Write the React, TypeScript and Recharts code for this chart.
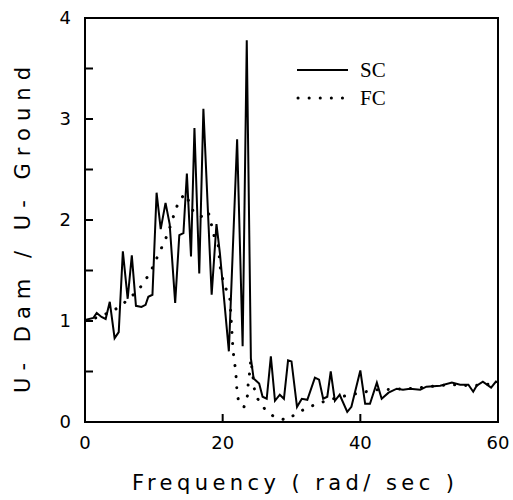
import React from 'react';
import {
  LineChart,
  Line,
  XAxis,
  YAxis,
  ReferenceArea,
} from 'recharts';

// SC curve (frequency, ratio)
const scFreq = [
  0, 1.2, 1.7, 2.4, 3.0, 3.6, 4.3, 4.9, 5.5, 6.2, 6.8, 7.4, 8.2, 8.8, 9.2, 9.8,
  10.4, 11.0, 11.7, 12.3, 13.1, 13.7, 14.3, 14.8, 15.4, 15.9, 16.6, 17.2, 18.4,
  19.1, 19.6, 20.9, 22.1, 22.9, 23.5, 24.1, 24.5, 25.3, 25.8, 26.4, 27.0, 27.6,
  28.3, 28.9, 29.5, 30.0, 30.8, 31.5, 32.3, 33.4, 34.0, 34.6, 35.2, 35.7, 36.3,
  37.0, 38.1, 38.7, 40.0, 40.7, 41.4, 42.4, 43.1, 44.1, 45.3, 46.2, 47.2, 48.7,
  49.6, 51.6, 53.3, 54.5, 55.7, 56.4, 56.9, 57.8, 59.0, 59.7, 60,
];
const scRatio = [
  1.01, 1.03, 1.08, 1.04, 1.02, 1.19, 0.83, 0.89, 1.69, 1.22, 1.65, 1.15, 1.14,
  1.16, 1.24, 1.26, 2.27, 1.91, 2.17, 1.96, 1.18, 1.85, 1.87, 2.46, 1.64, 2.91,
  1.47, 3.1, 1.26, 1.96, 1.67, 0.7, 2.8, 0.75, 3.78, 0.63, 0.43, 0.38, 0.25,
  0.23, 0.65, 0.21, 0.27, 0.23, 0.61, 0.6, 0.15, 0.23, 0.22, 0.44, 0.42, 0.23,
  0.25, 0.5, 0.21, 0.27, 0.1, 0.15, 0.51, 0.18, 0.18, 0.39, 0.23, 0.29, 0.33,
  0.32, 0.33, 0.32, 0.35, 0.36, 0.39, 0.37, 0.37, 0.3, 0.36, 0.4, 0.34, 0.4,
  0.39,
];

// FC curve
const fcFreq = [
  0, 1.5, 3.0, 4.8, 6.4, 7.9, 9.0, 9.9, 10.6, 11.3, 12.0, 12.5, 13.0, 13.6,
  14.5, 15.3, 15.8, 16.5, 17.1, 17.9, 18.3, 18.6, 19.4, 19.6, 20.2, 21.0, 21.3,
  21.4, 21.5, 21.7, 21.9, 22.0, 22.1, 22.4, 23.1, 23.6, 23.7, 23.9, 24.1, 24.6,
  25.0, 25.8, 27.3, 29.1, 30.7, 32.2, 33.8, 35.4, 38.5, 40.2, 42.1, 43.4, 47.0,
  50.0, 53.0, 56.0, 60,
];
const fcRatio = [
  1.0, 1.03, 1.07, 1.13, 1.22, 1.32, 1.43, 1.54, 1.65, 1.75, 1.86, 1.96, 2.07,
  2.18, 2.26, 2.16, 2.07, 2.05, 2.03, 2.08, 1.98, 1.87, 1.74, 1.55, 1.35, 1.26,
  0.94, 0.83, 0.71, 0.6, 0.5, 0.39, 0.28, 0.18, 0.15, 0.26, 0.37, 0.48, 0.62,
  0.33, 0.24, 0.15, 0.06, 0.02, 0.08, 0.14, 0.18, 0.22, 0.27, 0.29, 0.32, 0.32,
  0.33, 0.35, 0.37, 0.36, 0.38,
];

const xTicks = [0, 20, 40, 60];
const yTicks = [0, 0.5, 1, 1.5, 2, 2.5, 3, 3.5, 4];

const scData = scFreq.map((x, i) => ({ x, y: scRatio[i] }));
const fcData = fcFreq.map((x, i) => ({ x, y: fcRatio[i] }));

const tickFont = { fontFamily: 'DejaVu Sans', fontSize: 18, fill: '#000' };

// legend drawn over the plot, top right
const KeyBox = () => (
  <svg
    width={130}
    height={55}
    style={{ position: 'absolute', left: 290, top: 58, overflow: 'visible' }}
  >
    <line x1={7} y1={12} x2={58} y2={12} stroke="#000" strokeWidth={2} />
    <text x={70} y={19} fontFamily="Liberation Serif" fontSize={21}>SC</text>
    <line
      x1={8}
      y1={40}
      x2={54}
      y2={40}
      stroke="#000"
      strokeWidth={3}
      strokeDasharray="0.1 11"
      strokeLinecap="round"
    />
    <text x={70} y={47} fontFamily="Liberation Serif" fontSize={21}>FC</text>
  </svg>
);

export default function App() {
  return (
    <div style={{ position: 'absolute', left: 0, top: 0, width: 513, height: 500, background: '#fff' }}>
      <LineChart
        width={513}
        height={500}
        margin={{ top: 18, right: 15, left: 0, bottom: 0 }}
      >
        <XAxis
          type="number"
          dataKey="x"
          domain={[0, 60]}
          ticks={xTicks}
          allowDataOverflow
          height={78}
          stroke="#000"
          strokeWidth={2}
          tickSize={-8}
          tickMargin={22}
          tick={tickFont}
          label={{
            content: () => (
              <text
                x={293}
                y={490}
                textAnchor="middle"
                fontFamily="DejaVu Sans"
                fontSize={21}
                textLength={322}
                lengthAdjust="spacing"
              >
                Frequency ( rad/ sec )
              </text>
            ),
          }}
        />
        <YAxis
          type="number"
          domain={[0, 4]}
          ticks={yTicks}
          width={85}
          stroke="#000"
          strokeWidth={2}
          tickSize={-8}
          tickMargin={22}
          tick={tickFont}
          tickFormatter={(v: number) => (Number.isInteger(v) ? String(v) : '')}
          label={{
            content: () => (
              <text
                x={23}
                y={230}
                textAnchor="middle"
                dominantBaseline="central"
                transform="rotate(-90 23 230)"
                fontFamily="DejaVu Sans"
                fontSize={21}
                textLength={326}
                lengthAdjust="spacing"
              >
                U- Dam / U- Ground
              </text>
            ),
          }}
        />
        <ReferenceArea
          x1={0}
          x2={60}
          y1={0}
          y2={4}
          fill="none"
          stroke="#000"
          strokeWidth={2}
          ifOverflow="visible"
        />
        <Line
          data={fcData}
          dataKey="y"
          type="linear"
          stroke="#000"
          strokeWidth={3}
          strokeDasharray="0.1 11"
          strokeLinecap="round"
          dot={false}
          isAnimationActive={false}
        />
        <Line
          data={scData}
          dataKey="y"
          type="linear"
          stroke="#000"
          strokeWidth={2}
          dot={false}
          isAnimationActive={false}
        />
      </LineChart>
      <KeyBox />
    </div>
  );
}
